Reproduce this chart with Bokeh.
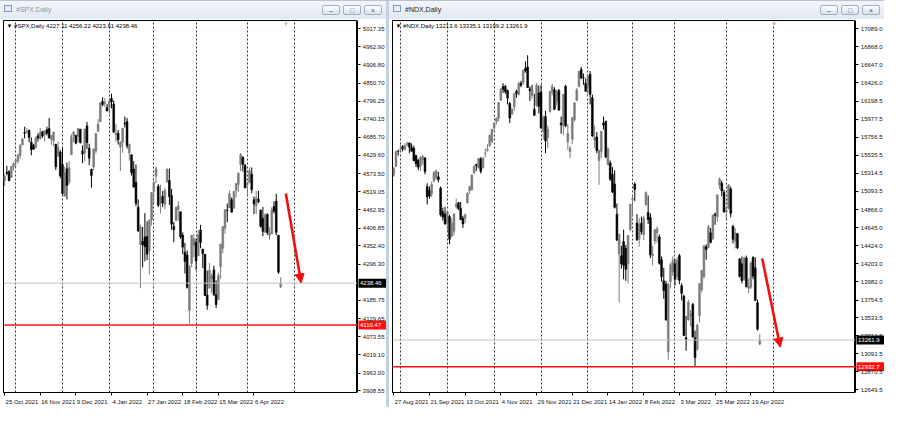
from bokeh.plotting import figure
from bokeh.models import (Range1d, LinearAxis, FixedTicker, NumeralTickFormatter, Span, Label,
                          Arrow, NormalHead, ColumnDataSource, Div, Spacer, Grid)
from bokeh.layouts import row, column
from bokeh.embed import file_html
from bokeh.resources import INLINE
from bokeh.core.properties import value

# ---------------- data: #SPX daily (25 Oct 2021 .. 25 Apr 2022) ----------------
spx_open = [
    4553, 4578, 4580, 4562, 4595, 4610, 4613, 4630, 4662, 4700,
    4702, 4707, 4670, 4660, 4655, 4690, 4680, 4702, 4693, 4708,
    4712, 4679, 4675, 4664, 4628, 4640, 4602, 4505, 4589, 4548,
    4632, 4690, 4691, 4688, 4710, 4643, 4637, 4720, 4652, 4587,
    4594, 4643, 4703, 4733, 4795, 4788, 4776, 4778, 4804, 4787,
    4693, 4698, 4655, 4670, 4728, 4733, 4637, 4632, 4588, 4547,
    4471, 4357, 4366, 4380, 4381, 4337, 4432, 4520, 4566, 4535,
    4482, 4505, 4480, 4548, 4553, 4506, 4412, 4430, 4464, 4457,
    4385, 4333, 4325, 4155, 4299, 4354, 4364, 4322, 4401, 4343,
    4327, 4202, 4223, 4252, 4279, 4203, 4189, 4289, 4345, 4407,
    4462, 4469, 4494, 4469, 4523, 4541, 4602, 4624, 4599, 4540,
    4547, 4572, 4494, 4475, 4495, 4462, 4437, 4395, 4449, 4385,
    4390, 4473, 4490, 4385, 4227.11]
spx_high = [
    4572, 4598, 4584, 4597, 4608, 4620, 4635, 4664, 4684, 4718,
    4714, 4708, 4685, 4665, 4688, 4698, 4714, 4705, 4705, 4718,
    4744, 4691, 4702, 4664, 4673, 4646, 4652, 4595, 4608, 4612,
    4695, 4705, 4693, 4713, 4711, 4660, 4712, 4732, 4666, 4589,
    4651, 4699, 4741, 4791, 4808, 4805, 4787, 4797, 4819, 4798,
    4725, 4708, 4673, 4714, 4749, 4744, 4666, 4632, 4612, 4602,
    4495, 4418, 4411, 4453, 4428, 4433, 4516, 4550, 4595, 4542,
    4540, 4521, 4531, 4590, 4589, 4527, 4426, 4472, 4490, 4457,
    4394, 4362, 4339, 4294, 4385, 4389, 4375, 4401, 4417, 4343,
    4327, 4277, 4300, 4268, 4292, 4247, 4271, 4358, 4412, 4465,
    4482, 4522, 4501, 4521, 4546, 4576, 4637, 4627, 4604, 4549,
    4593, 4593, 4504, 4521, 4521, 4464, 4472, 4453, 4452, 4410,
    4471, 4489, 4512, 4386, 4256.22]
spx_low = [
    4537, 4569, 4551, 4562, 4583, 4595, 4604, 4620, 4662, 4682,
    4697, 4670, 4630, 4647, 4651, 4672, 4679, 4684, 4672, 4691,
    4682, 4662, 4659, 4585, 4626, 4560, 4510, 4504, 4495, 4541,
    4632, 4670, 4664, 4670, 4666, 4606, 4612, 4650, 4600, 4531,
    4584, 4636, 4703, 4733, 4780, 4778, 4765, 4758, 4774, 4699,
    4671, 4663, 4582, 4638, 4715, 4651, 4614, 4568, 4531, 4474,
    4396, 4223, 4287, 4305, 4309, 4265, 4415, 4484, 4545, 4471,
    4452, 4471, 4465, 4548, 4478, 4402, 4364, 4430, 4430, 4374,
    4327, 4268, 4222, 4115, 4287, 4318, 4279, 4322, 4345, 4285,
    4199, 4157, 4223, 4209, 4199, 4162, 4187, 4252, 4330, 4390,
    4425, 4469, 4455, 4465, 4501, 4518, 4582, 4581, 4531, 4507,
    4547, 4514, 4450, 4450, 4483, 4408, 4382, 4393, 4386, 4371,
    4390, 4452, 4385, 4267, 4223.61]
spx_close = [
    4566, 4575, 4552, 4596, 4605, 4614, 4631, 4661, 4680, 4698,
    4702, 4685, 4647, 4649, 4683, 4683, 4701, 4689, 4705, 4698,
    4683, 4691, 4701, 4595, 4655, 4567, 4513, 4577, 4538, 4592,
    4687, 4701, 4667, 4712, 4669, 4634, 4710, 4669, 4621, 4568,
    4649, 4697, 4726, 4791, 4786, 4793, 4766, 4797, 4794, 4701,
    4696, 4677, 4670, 4713, 4726, 4659, 4663, 4577, 4533, 4483,
    4398, 4410, 4356, 4350, 4327, 4432, 4516, 4547, 4589, 4477,
    4501, 4484, 4522, 4587, 4504, 4419, 4402, 4471, 4475, 4380,
    4349, 4305, 4226, 4289, 4385, 4374, 4306, 4387, 4363, 4329,
    4201, 4171, 4278, 4260, 4204, 4173, 4262, 4358, 4412, 4463,
    4461, 4512, 4456, 4520, 4543, 4576, 4632, 4602, 4530, 4546,
    4583, 4525, 4481, 4500, 4488, 4413, 4397, 4447, 4393, 4392,
    4462, 4459, 4394, 4272, 4238.46]
spx_level = 4110.47
spx_date_idx = [0, 16, 32, 48, 64, 80, 96, 112]
spx_date_labels = ["25 Oct 2021", "16 Nov 2021", "9 Dec 2021", "4 Jan 2022",
                   "27 Jan 2022", "18 Feb 2022", "15 Mar 2022", "6 Apr 2022"]
spx_month_idx = [5, 26, 47, 67, 86, 109, 130]
spx_price_ticks = [5017.35, 4962.90, 4906.80, 4850.70, 4796.25, 4740.15, 4685.70,
                   4629.60, 4573.50, 4519.05, 4462.95, 4406.85, 4352.40, 4296.30,
                   4185.75, 4129.65, 4073.55, 4019.10, 3963.00, 3908.55]

# ---------------- data: #NDX daily (27 Aug 2021 .. 25 Apr 2022) ----------------
ndx_open = [
    15290, 15395, 15585, 15600, 15640, 15610, 15665, 15685, 15630, 15620,
    15530, 15470, 15400, 15480, 15500, 15150, 15100, 15060, 15220, 15260,
    15270, 15130, 14840, 14810, 14700, 14780, 14540, 14600, 14900, 14950,
    14880, 14760, 14760, 14950, 15100, 15110, 15320, 15420, 15380, 15490,
    15380, 15560, 15590, 15650, 15700, 15870, 15950, 15990, 16210, 16380,
    16380, 16330, 16170, 16040, 16130, 16320, 16280, 16420, 16430, 16600,
    16620, 16350, 16270, 16100, 16150, 16300, 16310, 15830, 16010, 15750,
    16070, 16310, 16340, 16200, 16330, 15930, 15900, 16380, 15700, 15580,
    15730, 15970, 16210, 16380, 16590, 16490, 16420, 16390, 16530, 16240,
    15720, 15760, 15470, 15580, 15930, 15950, 15420, 15440, 15300, 15180,
    14810, 14320, 14300, 14470, 14390, 14200, 14620, 14990, 15180, 14700,
    14500, 14700, 14560, 14930, 14830, 14770, 14300, 14480, 14580, 14530,
    14250, 13990, 13950, 13120, 13980, 14100, 14200, 14040, 14300, 13930,
    13800, 13290, 13510, 13560, 13700, 13290, 13150, 13560, 13880, 14040,
    14410, 14400, 14580, 14510, 14810, 14780, 15170, 15190, 15080, 14840,
    14880, 15120, 14660, 14480, 14570, 14260, 14200, 14010, 14270, 13900,
    13910, 14280, 14150, 13720, 13213.6]
ndx_high = [
    15390, 15590, 15600, 15665, 15660, 15680, 15701, 15690, 15680, 15655,
    15540, 15490, 15520, 15540, 15510, 15190, 15150, 15210, 15340, 15360,
    15330, 15150, 14890, 14900, 14850, 14800, 14760, 14820, 15000, 14960,
    14960, 14790, 14820, 15080, 15160, 15300, 15410, 15430, 15500, 15510,
    15510, 15620, 15670, 15790, 15860, 15940, 16000, 16190, 16360, 16420,
    16400, 16340, 16190, 16120, 16300, 16340, 16440, 16450, 16590, 16690,
    16764, 16380, 16400, 16290, 16420, 16390, 16400, 16020, 16080, 15900,
    16330, 16410, 16370, 16330, 16350, 16010, 16290, 16400, 15920, 15650,
    16000, 16180, 16360, 16570, 16620, 16540, 16480, 16520, 16570, 16280,
    15900, 15820, 15600, 15830, 16010, 15960, 15630, 15470, 15390, 15350,
    14940, 14570, 14420, 14620, 14430, 14550, 14940, 15040, 15200, 14810,
    14760, 14780, 14790, 15090, 15040, 14820, 14420, 14620, 14660, 14560,
    14290, 14150, 13990, 13970, 14210, 14290, 14260, 14280, 14320, 13960,
    13820, 13560, 13760, 13630, 13720, 13380, 13460, 13960, 14120, 14430,
    14440, 14680, 14640, 14800, 14830, 15050, 15263, 15220, 15110, 14900,
    15180, 15150, 14680, 14640, 14580, 14270, 14290, 14290, 14300, 14020,
    14230, 14290, 14280, 13760, 13335.1]
ndx_low = [
    15270, 15390, 15530, 15590, 15580, 15590, 15640, 15560, 15580, 15460,
    15390, 15350, 15340, 15420, 15300, 14930, 15000, 15020, 15200, 15230,
    15200, 14780, 14730, 14680, 14600, 14440, 14530, 14550, 14880, 14860,
    14740, 14640, 14700, 14940, 15060, 15100, 15300, 15340, 15370, 15310,
    15370, 15510, 15580, 15640, 15690, 15830, 15910, 15950, 16200, 16300,
    16290, 16160, 15930, 16030, 16080, 16240, 16270, 16370, 16400, 16550,
    16360, 16200, 16230, 16020, 16130, 16050, 15860, 15730, 15560, 15620,
    16060, 16270, 16090, 16150, 16080, 15800, 15780, 15880, 15600, 15500,
    15670, 15950, 16200, 16370, 16470, 16400, 16320, 16290, 16160, 15760,
    15620, 15560, 15170, 15500, 15850, 15500, 15410, 15220, 15070, 14880,
    14480, 13725, 14140, 14010, 13990, 13960, 14600, 14790, 14970, 14480,
    14410, 14560, 14490, 14910, 14690, 14270, 14180, 14440, 14460, 14190,
    13980, 13770, 13500, 13021, 13900, 14050, 13930, 14000, 13950, 13750,
    13310, 13130, 13500, 13430, 13290, 12943, 13130, 13480, 13850, 14020,
    14250, 14390, 14450, 14490, 14680, 14720, 15120, 15030, 14830, 14750,
    14870, 14770, 14450, 14390, 14380, 14030, 13960, 13990, 13910, 13840,
    13890, 14010, 13740, 13380, 13199.2]
ndx_close = [
    15374, 15580, 15583, 15610, 15613, 15653, 15680, 15634, 15584, 15469,
    15428, 15387, 15510, 15520, 15335, 15022, 15034, 15174, 15320, 15342,
    15235, 14802, 14774, 14689, 14836, 14502, 14701, 14812, 14934, 14879,
    14742, 14690, 14802, 15068, 15146, 15291, 15400, 15408, 15496, 15337,
    15502, 15562, 15601, 15778, 15850, 15931, 15986, 16182, 16345, 16345,
    16315, 16237, 15991, 16096, 16290, 16295, 16416, 16395, 16573, 16573,
    16367, 16329, 16396, 16025, 16398, 16135, 15869, 16005, 15712, 15857,
    16314, 16384, 16099, 16327, 16090, 15908, 16281, 15896, 15801, 15620,
    15997, 16181, 16338, 16567, 16486, 16487, 16320, 16501, 16280, 15772,
    15757, 15591, 15596, 15829, 15905, 15512, 15611, 15239, 15083, 14895,
    14492, 14562, 14199, 14181, 14133, 14547, 14931, 15002, 15113, 14497,
    14686, 14597, 14762, 15077, 14744, 14309, 14321, 14620, 14629, 14208,
    14043, 13870, 13511, 13948, 14187, 14237, 14011, 14244, 13998, 13837,
    13319, 13268, 13729, 13580, 13301, 13047, 13447, 13956, 14118, 14420,
    14375, 14656, 14464, 14799, 14798, 15048, 15239, 15095, 14838, 14861,
    15169, 14820, 14501, 14583, 14396, 14046, 13993, 14270, 13919, 13927,
    14210, 14048, 13752, 13395, 13261.9]
ndx_level = 12932.7
ndx_date_idx = [0, 16, 32, 48, 64, 80, 96, 112, 128, 144, 160]
ndx_date_labels = ["27 Aug 2021", "21 Sep 2021", "13 Oct 2021", "4 Nov 2021", "29 Nov 2021",
                   "21 Dec 2021", "14 Jan 2022", "8 Feb 2022", "3 Mar 2022", "25 Mar 2022",
                   "19 Apr 2022"]
ndx_month_idx = [3, 24, 45, 66, 87, 107, 126, 149, 170]
ndx_price_ticks = [17089.0, 16868.0, 16647.0, 16426.0, 16198.5, 15977.5, 15756.5, 15535.5,
                   15314.5, 15093.5, 14866.0, 14645.0, 14424.0, 14203.0, 13982.0, 13754.5,
                   13533.5, 13312.5, 13091.5, 12870.5, 12649.5]

for nm, arrs in (("spx", (spx_open, spx_high, spx_low, spx_close)),
                 ("ndx", (ndx_open, ndx_high, ndx_low, ndx_close))):
    lens = [len(a) for a in arrs]
    if len(set(lens)) != 1:
        raise SystemExit(f"{nm} length mismatch {lens}")

FONT = "Liberation Sans"
FS = "6px"
UP = "#7c7c7c"
DOWN = "#000000"
H_FIG = 388
MB_TOP, MB_BOT = 1, 14
STRIP = 29

EM = {" ": .278, ".": .278, ",": .278, "A": .667, "D": .722, "F": .611, "J": .5, "M": .833,
      "N": .722, "O": .778, "S": .667, "a": .556, "b": .556, "c": .5, "e": .556, "g": .556,
      "n": .556, "o": .556, "p": .556, "r": .333, "t": .278, "u": .556, "v": .5, "y": .5}


def text_w(s, px=6.0):
    return sum(EM.get(ch, .556) for ch in s) * px


def title_bar(name, width, active):
    tc = "#1e1e1e" if active else "#8b97a7"
    btn = ("position:absolute;top:4px;width:18px;height:10px;border:1px solid #9fadbf;"
           "border-radius:2px;background:linear-gradient(#fcfdfe,#d9e2ec);font-size:7px;"
           "line-height:10px;text-align:center;color:#4f5b69;")
    html = (f'<div style="position:relative;width:{width}px;height:19px;overflow:hidden;'
            f'background:linear-gradient(#f2f6fa,#e1e8f0);border-top:1px solid #b4c2d2;'
            f'box-sizing:border-box;font-family:\'Liberation Sans\',sans-serif;">'
            f'<div style="position:absolute;left:4px;top:4px;width:8px;height:7px;'
            f'border:1px solid #7d9bc2;background:#e6eef9;"></div>'
            f'<div style="position:absolute;left:16px;top:4px;font-size:7px;color:{tc};">{name}</div>'
            f'<div style="{btn}right:46px;">&#8211;</div>'
            f'<div style="{btn}right:25px;">&#9633;</div>'
            f'<div style="{btn}right:4px;">&#215;</div>'
            f'</div>')
    return Div(text=html, width=width, height=19, styles={"margin": "0", "padding": "0"})


def chart(name, o, h, l, c, level, level_txt, yticks, yfmt, date_idx, date_labels,
          month_idx, xr, yr, arrow_pts, shift_x, width, decimals):
    mbl = 3
    main_w = width - STRIP
    frame_w = main_w - mbl
    ppb = frame_w / (xr[1] - xr[0])
    y_range = Range1d(*yr)
    p = figure(width=main_w, height=H_FIG, x_range=Range1d(*xr), y_range=y_range,
               output_backend="svg", toolbar_location=None,
               x_axis_location=None, y_axis_location=None,
               min_border_left=mbl, min_border_right=0, min_border_top=MB_TOP,
               min_border_bottom=MB_BOT,
               background_fill_color="white", border_fill_color="white",
               outline_line_color="black", outline_line_width=1)
    p.grid.visible = False

    p.add_layout(Grid(dimension=0, ticker=FixedTicker(ticks=month_idx),
                      grid_line_color="#3a3a3a", grid_line_dash="2 2", grid_line_width=1))

    centers = [round(i + (text_w(t) / 2 + 1) / ppb, 3) for i, t in zip(date_idx, date_labels)]
    xaxis = LinearAxis(ticker=FixedTicker(ticks=centers, minor_ticks=date_idx),
                       major_label_overrides={cx: t for cx, t in zip(centers, date_labels)},
                       major_tick_out=0, major_tick_in=0, minor_tick_out=3, minor_tick_in=0,
                       minor_tick_line_color="black", axis_line_color="black",
                       major_label_standoff=3, major_label_text_font=FONT,
                       major_label_text_font_size=FS, major_label_text_color="#111111")
    p.add_layout(xaxis, "below")

    x = list(range(len(c)))
    col = [UP if cc >= oo else DOWN for oo, cc in zip(o, c)]
    src = ColumnDataSource(dict(x=x, open=o, high=h, low=l, close=c,
                                top=[max(a, b) for a, b in zip(o, c)],
                                bottom=[min(a, b) for a, b in zip(o, c)], col=col))
    p.segment(x0="x", y0="low", x1="x", y1="high", line_color="col", line_width=1, source=src)
    p.vbar(x="x", top="top", bottom="bottom", width=0.8, fill_color="col", line_color="col",
           line_width=0.6, source=src)

    p.add_layout(Span(location=c[-1], dimension="width", line_color="#c4c4c4", line_width=1))
    p.add_layout(Span(location=level, dimension="width", line_color="#ff1010", line_width=1.5))

    p.add_layout(Arrow(end=NormalHead(size=9, fill_color="#f01010", line_color="#f01010"),
                       x_start=arrow_pts[0], y_start=arrow_pts[1],
                       x_end=arrow_pts[2], y_end=arrow_pts[3],
                       line_color="#f01010", line_width=2.6))

    fmt = "{:.%df}" % decimals
    header = f"▼ {name}   " + " ".join(fmt.format(v) for v in (o[-1], h[-1], l[-1], c[-1]))
    p.add_layout(Label(x=xr[0], y=yr[1], x_offset=3, y_offset=-2, text=header,
                       text_baseline="top", text_align="left", text_font=FONT,
                       text_font_size=FS, text_color="#000000"))
    p.add_layout(Label(x=shift_x, y=yr[1], y_offset=0, text="▼", text_baseline="top",
                       text_align="center", text_font=FONT, text_font_size="6px",
                       text_color="#b8b8b8"))

    # price-scale strip: its frame is the strip, its axis sits on the strip's left edge
    s = figure(width=STRIP, height=H_FIG, x_range=Range1d(0, STRIP), y_range=y_range,
               output_backend="svg", toolbar_location=None,
               x_axis_location=None, y_axis_location=None,
               min_border_left=0, min_border_right=0, min_border_top=MB_TOP,
               min_border_bottom=MB_BOT, background_fill_color="white",
               border_fill_color="white", outline_line_color=None)
    s.grid.visible = False
    yaxis = LinearAxis(ticker=FixedTicker(ticks=yticks), formatter=NumeralTickFormatter(format=yfmt),
                       major_tick_out=0, major_tick_in=3, minor_tick_out=0, minor_tick_in=0,
                       minor_tick_line_color=None, axis_line_color="black",
                       major_tick_line_color="black", major_label_standoff=-(STRIP - 2),
                       major_label_text_font=FONT, major_label_text_font_size=FS,
                       major_label_text_color="#111111")
    s.add_layout(yaxis, "left")

    tag_y = [c[-1], level]
    tag_txt = [fmt.format(c[-1]), level_txt]
    tag_bg = ["#000000", "#ff1010"]
    tsrc = ColumnDataSource(dict(x=[STRIP / 2 + 0.5] * 2, tx=[2.5] * 2, y=tag_y, t=tag_txt, bg=tag_bg))
    s.rect(x="x", y="y", width=STRIP - 1, height=9, height_units="screen", fill_color="bg",
           line_color=None, source=tsrc)
    s.text(x="tx", y="y", text="t", text_color="white", text_baseline="middle",
           text_align="left", text_font=value(FONT), text_font_size=value(FS), source=tsrc)
    return row(p, s)


left = chart("#SPX,Daily", spx_open, spx_high, spx_low, spx_close, spx_level, "4110.47",
             spx_price_ticks, "0.00", spx_date_idx, spx_date_labels, spx_month_idx,
             (-0.5, 158.5), (3903.5, 5043.0), (126.3, 4513, 133.2, 4239), 126.4, 386, 2)
right = chart("#NDX,Daily", ndx_open, ndx_high, ndx_low, ndx_close, ndx_level, "12932.7",
              ndx_price_ticks, "0.0", ndx_date_idx, ndx_date_labels, ndx_month_idx,
              (-0.55, 206.9), (12617.5, 17191.0), (165.1, 14264, 173.2, 13175), 170.5, 495, 1)

layout = row(column(title_bar("#SPX,Daily", 386, False), left),
             Spacer(width=3, height=407, styles={"background-color": "#c3d2e2"}),
             column(title_bar("#NDX,Daily", 495, True), right))

open("out.html", "w").write(file_html(layout, INLINE))
